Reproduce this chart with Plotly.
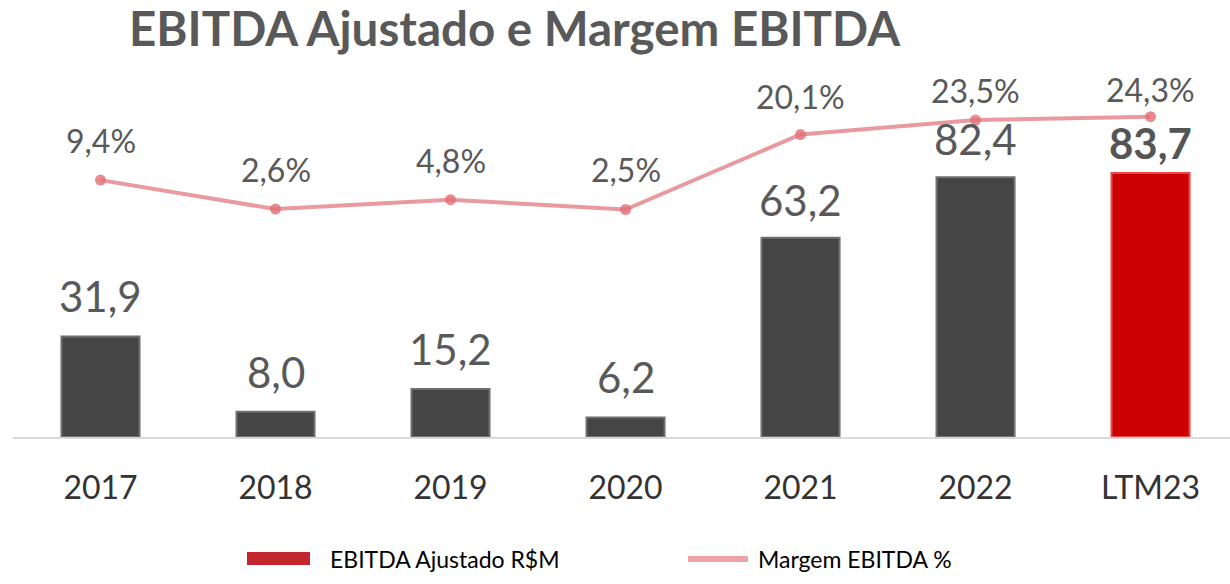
import plotly.graph_objects as go

categories = ["2017", "2018", "2019", "2020", "2021", "2022", "LTM23"]
ebitda = [31.9, 8.0, 15.2, 6.2, 63.2, 82.4, 83.7]
margem = [9.4, 2.6, 4.8, 2.5, 20.1, 23.5, 24.3]
ebitda_labels = ["31,9", "8,0", "15,2", "6,2", "63,2", "82,4", "83,7"]
margem_labels = ["9,4%", "2,6%", "4,8%", "2,5%", "20,1%", "23,5%", "24,3%"]

# label vertical offsets (px) — styling
bar_shift = [40, 40, 40, 40, 38, 38, 30]
line_shift = [40, 40, 39, 40, 38, 30, 27]

W, H = 1230, 584
L, R, T, B = 13, 0, 80, 147
FONT = "Lato"
GRAY = "#595959"

bar_colors = ["#454545"] * 6 + ["#cc0000"]
bar_lines = ["#707070"] * 6 + ["#e84a4a"]

fig = go.Figure()
fig.add_trace(go.Bar(
    x=categories, y=ebitda, name="EBITDA Ajustado R$M",
    marker=dict(color=bar_colors, line=dict(color=bar_lines, width=2)),
    width=0.446, hoverinfo="skip", showlegend=False,
))
fig.add_trace(go.Scatter(
    x=categories, y=margem, yaxis="y2", name="Margem EBITDA %",
    mode="lines+markers",
    line=dict(color="rgba(226,120,127,0.75)", width=4),
    marker=dict(color="rgba(226,110,118,0.8)", size=11),
    hoverinfo="skip", showlegend=False,
))

ann = []
for i, c in enumerate(categories):
    last = i == len(categories) - 1
    ann.append(dict(x=i, y=ebitda[i], xref="x", yref="y", text=ebitda_labels[i],
                    showarrow=False, yshift=bar_shift[i],
                    font=dict(family=FONT, size=42, color=GRAY if not last else "#555555",
                              weight="bold" if last else "normal")))
    ann.append(dict(x=i, y=margem[i], xref="x", yref="y2", text=margem_labels[i],
                    showarrow=False, yshift=line_shift[i],
                    font=dict(family=FONT, size=32, color=GRAY)))

pw = W - L - R
ph = H - T - B
def px(x):
    return (x - L) / pw
def py(y):
    return (H - B - y) / ph

shapes = [
    dict(type="rect", xref="paper", yref="paper", x0=px(247), x1=px(310), y0=py(565), y1=py(552),
         fillcolor="#c1272d", line=dict(width=0)),
    dict(type="line", xref="paper", yref="paper", x0=px(688), x1=px(748), y0=py(559), y1=py(559),
         line=dict(color="#eba3a8", width=6)),
]
ann.append(dict(xref="paper", yref="paper", x=px(328), y=py(559), xanchor="left", yanchor="middle",
                text="EBITDA Ajustado R$M", showarrow=False,
                font=dict(family=FONT, size=23, color="#000000")))
ann.append(dict(xref="paper", yref="paper", x=px(756), y=py(559), xanchor="left", yanchor="middle",
                text="Margem EBITDA %", showarrow=False,
                font=dict(family=FONT, size=23, color="#000000")))

fig.update_layout(
    width=W, height=H,
    margin=dict(l=L, r=R, t=T, b=B, autoexpand=False),
    paper_bgcolor="white", plot_bgcolor="white",
    title=dict(text="<b>EBITDA Ajustado e Margem EBITDA</b>", x=129 / W,
               xref="container", xanchor="left", y=1 - 29 / H, yref="container", yanchor="middle",
               font=dict(family=FONT, size=47.5, color=GRAY)),
    xaxis=dict(type="category", range=[-0.5, 6.454], showgrid=False, zeroline=False,
               showline=True, linecolor="#d9d9d9", linewidth=2, automargin=False,
               ticks="outside", ticklen=22, tickcolor="rgba(0,0,0,0)",
               tickfont=dict(family=FONT, size=32, color="#333333")),
    yaxis=dict(range=[0, 113.2], visible=False, showgrid=False, automargin=False),
    yaxis2=dict(range=[-50.9, 32.9], overlaying="y", visible=False, showgrid=False),
    bargap=0.554,
    annotations=ann, shapes=shapes,
)

fig.write_html("out.html", config={"displayModeBar": False},
               post_script="document.body.style.margin='0';")
